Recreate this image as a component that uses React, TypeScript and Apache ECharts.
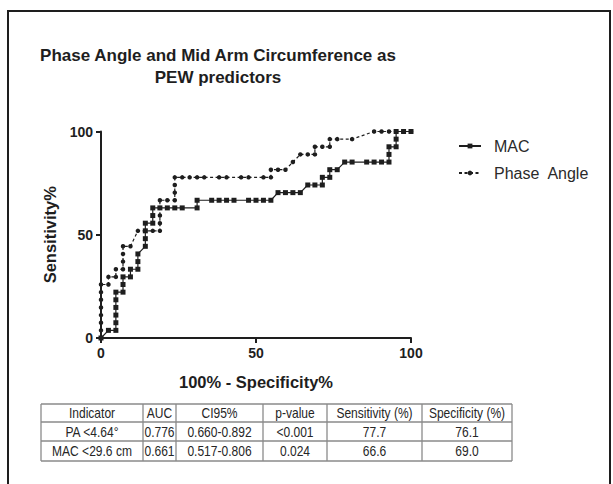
import React, { useEffect, useRef } from "react";
import * as echarts from "echarts";

// ROC points (x = 100% - Specificity%, y = Sensitivity%)
const macX = [0, 2.4, 4.8, 4.8, 4.8, 4.8, 4.8, 4.8, 7.1, 7.1, 7.1, 9.5, 9.5, 11.9, 11.9, 11.9, 14.3, 14.3, 14.3, 14.3, 16.7, 16.7, 16.7, 19, 21.4, 23.8, 26.2, 31, 31, 35.7, 38.1, 40.5, 42.9, 47.6, 50, 52.4, 54.8, 57.1, 59.5, 61.9, 64.3, 66.7, 69, 71.4, 71.4, 73.8, 73.8, 76.2, 78.6, 81, 85.7, 88.1, 90.5, 92.9, 92.9, 92.9, 95.2, 95.2, 95.2, 97.6, 100];
const macY = [0, 3.7, 3.7, 7.4, 11.1, 14.8, 18.5, 22.2, 22.2, 25.9, 29.6, 29.6, 33.3, 33.3, 37, 40.7, 44.4, 48.1, 51.9, 55.6, 55.6, 59.3, 63, 63, 63, 63, 63, 63, 66.7, 66.7, 66.7, 66.7, 66.7, 66.7, 66.7, 66.7, 66.7, 70.4, 70.4, 70.4, 70.4, 74.1, 74.1, 74.1, 77.8, 77.8, 81.5, 81.5, 85.2, 85.2, 85.2, 85.2, 85.2, 85.2, 88.9, 92.6, 92.6, 96.3, 100, 100, 100];

const paX = [0, 0, 0, 0, 0, 0, 0, 0, 2.4, 2.4, 4.8, 4.8, 7.1, 7.1, 7.1, 7.1, 9.5, 11.9, 14.3, 16.7, 19, 19, 19, 19, 19, 21.4, 23.8, 23.8, 23.8, 23.8, 26.2, 28.6, 31, 33.3, 38.1, 40.5, 45.2, 47.6, 52.4, 54.8, 54.8, 57.1, 59.5, 61.9, 64.3, 66.7, 69, 69, 71.4, 73.8, 73.8, 76.2, 81, 88.1, 90.5, 92.9, 95.2, 97.6, 100];
const paY = [0, 3.7, 7.4, 11.1, 14.8, 18.5, 22.2, 25.9, 25.9, 29.6, 29.6, 33.3, 33.3, 37, 40.7, 44.4, 44.4, 51.9, 51.9, 51.9, 51.9, 55.6, 59.3, 63, 66.7, 66.7, 66.7, 70.4, 74.1, 77.8, 77.8, 77.8, 77.8, 77.8, 77.8, 77.8, 77.8, 77.8, 77.8, 77.8, 81.5, 81.5, 81.5, 85.2, 88.9, 88.9, 88.9, 92.6, 92.6, 92.6, 96.3, 96.3, 96.3, 100, 100, 100, 100, 100, 100];

const seriesNames = ["MAC", "Phase  Angle"];
const axisTicks = [0, 50, 100];

const titleText = "Phase Angle and Mid Arm Circumference as\nPEW predictors";
const xName = "100% - Specificity%";
const yName = "Sensitivity%";

const tableHeader = ["Indicator", "AUC", "CI95%", "p-value", "Sensitivity (%)", "Specificity (%)"];
const tableRow1 = ["PA <4.64°", "0.776", "0.660-0.892", "<0.001", "77.7", "76.1"];
const tableRow2 = ["MAC <29.6 cm", "0.661", "0.517-0.806", "0.024", "66.6", "69.0"];

// layout of the table (pixels)
const colEdges = [41, 143, 176, 263, 327, 422, 512];
const rowEdges = [404, 422, 441, 461];

const INK = "#1e1e1e";
const FONT = '"Liberation Sans", Arial, sans-serif';

export default function App() {
  const ref = useRef<HTMLDivElement>(null);

  useEffect(() => {
    if (!ref.current) return;
    const chart = echarts.init(ref.current, null, { renderer: "svg" });

    const macData = macX.map((x, i) => [x, macY[i]]);
    const paData = paX.map((x, i) => [x, paY[i]]);

    const rows = [tableHeader, tableRow1, tableRow2];
    const tableGraphics: any[] = [];
    rowEdges.forEach((y) => {
      tableGraphics.push({
        type: "line",
        shape: { x1: colEdges[0], y1: y, x2: colEdges[colEdges.length - 1], y2: y },
        style: { stroke: "#8a8a8a", lineWidth: 1.3 },
      });
    });
    colEdges.forEach((x) => {
      tableGraphics.push({
        type: "line",
        shape: { x1: x, y1: rowEdges[0], x2: x, y2: rowEdges[rowEdges.length - 1] },
        style: { stroke: "#8a8a8a", lineWidth: 1.3 },
      });
    });
    rows.forEach((row, r) => {
      row.forEach((cell, c) => {
        tableGraphics.push({
          type: "text",
          x: (colEdges[c] + colEdges[c + 1]) / 2,
          y: (rowEdges[r] + rowEdges[r + 1]) / 2 + 0.5,
          scaleX: 0.86,
          style: {
            text: cell,
            textAlign: "center",
            textVerticalAlign: "middle",
            font: `14px ${FONT}`,
            fill: "#262626",
          },
        });
      });
    });

    const axisCommon = {
      type: "value",
      min: axisTicks[0],
      max: axisTicks[axisTicks.length - 1],
      interval: axisTicks[1] - axisTicks[0],
      splitLine: { show: false },
      axisLine: { show: true, lineStyle: { color: INK, width: 2 } },
      axisTick: { show: true, length: 5, lineStyle: { color: INK, width: 2 } },
      axisLabel: {
        color: INK,
        fontWeight: "bold",
        fontSize: 14,
        fontFamily: FONT,
        margin: 8,
      },
      nameLocation: "middle",
      nameTextStyle: {
        color: INK,
        fontWeight: "bold",
        fontSize: 16.5,
        fontFamily: FONT,
      },
    };

    chart.setOption({
      animation: false,
      backgroundColor: "#ffffff",
      grid: { left: 101, top: 131.5, width: 310, height: 206.5, containLabel: false },
      xAxis: { ...axisCommon, name: xName, nameGap: 35 },
      yAxis: { ...axisCommon, name: yName, nameGap: 27 },
      legend: {
        orient: "vertical",
        left: 458,
        top: 138,
        padding: 0,
        itemWidth: 22,
        itemHeight: 6,
        itemGap: 11,
        data: seriesNames,
        textStyle: {
          color: "#2a2a2a",
          fontSize: 16,
          fontFamily: FONT,
          lineHeight: 16,
          padding: [0, 0, 0, 8],
        },
      },
      series: [
        {
          name: seriesNames[0],
          type: "line",
          data: macData,
          symbol: "rect",
          symbolSize: 5,
          itemStyle: { color: INK },
          lineStyle: { color: INK, width: 1.2, type: "solid" },
          z: 3,
        },
        {
          name: seriesNames[1],
          type: "line",
          data: paData,
          symbol: "circle",
          symbolSize: 4.5,
          itemStyle: { color: INK },
          lineStyle: { color: INK, width: 1.2, type: [3, 2.5] },
          z: 4,
        },
      ],
      graphic: [
        {
          type: "rect",
          shape: { x: 8, y: 11, width: 602, height: 490 },
          style: { fill: "none", stroke: INK, lineWidth: 2 },
          silent: true,
        },
        {
          type: "text",
          x: 218,
          y: 44,
          style: {
            text: titleText,
            textAlign: "center",
            font: `bold 17px ${FONT}`,
            lineHeight: 22,
            fill: INK,
          },
        },
        ...tableGraphics,
      ],
    });

    return () => chart.dispose();
  }, []);

  return (
    <div
      ref={ref}
      style={{ position: "absolute", left: 0, top: 0, width: 613, height: 484, background: "#fff" }}
    />
  );
}
